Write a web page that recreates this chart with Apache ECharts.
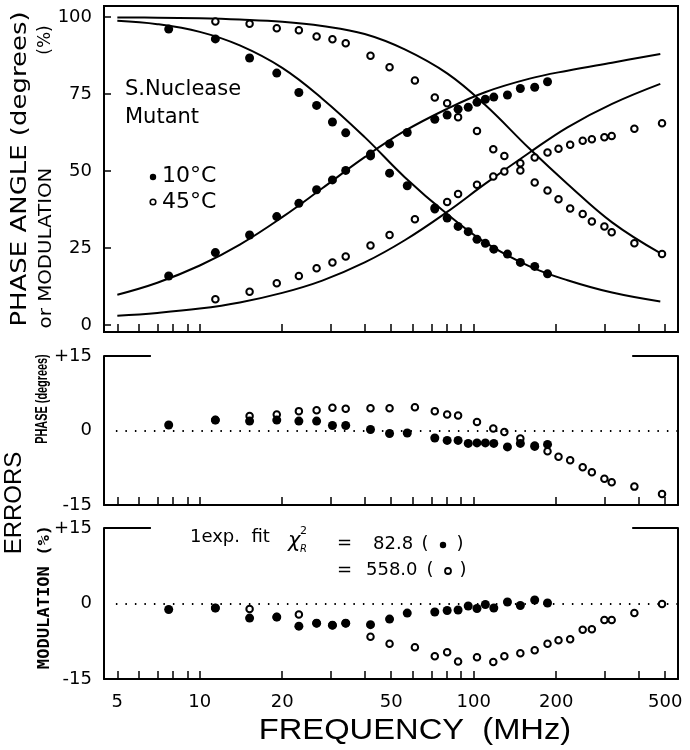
<!DOCTYPE html>
<html><head><meta charset="utf-8">
<script src="https://cdn.jsdelivr.net/npm/echarts@6/dist/echarts.min.js"></script>
<style>html,body{margin:0;padding:0;background:#fff}#c{width:690px;height:750px}</style>
</head><body><div id="c"></div>
<script>
// ---- data (frequency in MHz) ----
const freq10 = [7.7, 11.4, 15.2, 19.1, 23.0, 26.7, 30.5, 34.1, 42.0, 49.3, 57.2, 72.1, 80.0, 87.7, 95.5, 102.8, 110.3, 118.4, 132.8, 148.0, 167.0, 186.0];
const phase10 = [15.9, 23.5, 29.2, 35.2, 39.5, 43.9, 47.1, 50.2, 54.9, 58.8, 62.5, 66.8, 68.2, 70.1, 70.7, 72.3, 73.3, 74.0, 74.7, 76.8, 77.2, 79.0];
const mod10 = [96.1, 92.9, 86.7, 81.8, 75.5, 71.3, 65.9, 62.4, 55.5, 49.3, 45.2, 38.0, 34.7, 32.0, 30.3, 27.8, 26.5, 24.6, 23.0, 20.3, 19.0, 16.6];
const phaseErr10 = [1.1, 2.1, 1.9, 2.1, 1.9, 1.9, 1.0, 1.0, 0.2, -0.6, -0.5, -1.5, -2.0, -2.0, -2.6, -2.5, -2.5, -2.6, -3.3, -2.6, -3.2, -2.8];
const modErr10 = [-1.2, -0.9, -2.9, -2.7, -4.5, -3.9, -4.3, -3.9, -4.2, -3.1, -1.9, -1.7, -1.4, -1.3, -0.5, -1.0, -0.2, -0.9, 0.3, -0.4, 0.7, 0.1];

const freq45 = [11.4, 15.2, 19.1, 23.0, 26.7, 30.5, 34.1, 42.0, 49.3, 61.0, 72.1, 80.0, 87.7, 102.8, 117.9, 129.4, 148.0, 167.0, 186.0, 204.0, 225.0, 250.0, 270.0, 300.0, 319.0, 386.0, 487.0];
const phase45 = [8.3, 10.8, 13.5, 15.9, 18.4, 20.3, 22.2, 25.8, 29.2, 34.3, 37.6, 39.9, 42.5, 45.5, 48.2, 49.8, 52.5, 54.4, 56.0, 57.2, 58.5, 59.8, 60.3, 61.0, 61.4, 63.7, 65.5];
const mod45 = [98.6, 97.8, 96.4, 95.7, 93.7, 92.8, 91.5, 87.4, 83.7, 79.4, 73.9, 72.0, 67.5, 63.0, 57.1, 54.9, 50.2, 46.3, 43.7, 40.8, 37.8, 36.0, 33.6, 32.0, 30.1, 26.5, 23.0];
const phaseErr45 = [2.1, 2.9, 3.2, 3.9, 4.1, 4.6, 4.4, 4.5, 4.5, 4.7, 3.9, 3.2, 3.0, 1.7, 0.4, -0.3, -1.6, -3.0, -4.2, -5.3, -6.0, -7.4, -8.4, -9.7, -10.4, -11.3, -12.8];
const modErr45 = [-0.9, -1.1, -2.7, -2.2, -3.9, -4.3, -3.9, -6.6, -8.0, -8.7, -10.5, -9.7, -11.5, -10.7, -11.6, -10.5, -9.9, -9.3, -8.0, -7.3, -7.1, -5.2, -5.1, -3.3, -3.3, -1.9, -0.1];

// fitted curves (1 exp. fit)
const fitFreq = [5, 7, 10, 14, 20, 28, 40, 56, 80, 110, 160, 220, 320, 480];
const fitPhase10 = [9.8, 13.7, 19.3, 26.1, 35.0, 44.4, 54.5, 63.0, 70.2, 75.6, 80.0, 82.6, 85.2, 88.0];
const fitMod10 = [98.8, 97.7, 95.2, 90.8, 83.5, 73.5, 61.0, 48.0, 36.0, 26.8, 19.0, 14.5, 10.5, 7.6];
const fitPhase45 = [3.0, 3.9, 5.3, 7.3, 10.4, 14.4, 20.3, 27.5, 36.7, 45.8, 56.0, 64.2, 71.8, 78.3];
const fitMod45 = [99.9, 99.8, 99.6, 99.2, 98.5, 97.1, 94.5, 89.5, 81.7, 71.5, 57.2, 45.8, 33.3, 23.3];

// axis ticks / labels
const xTickValues = [5, 6, 7, 8, 9, 10, 20, 30, 40, 50, 60, 70, 80, 90, 100, 200, 300, 400, 500];
const xLabelValues = [5, 10, 20, 50, 100, 200, 500];
const yTopLabels = [0, 25, 50, 75, 100];
const yErrLabels = [-15, 0, 15];
const xRange = [4.47, 557];

// ---- build ----
const L = Math.log10;
const X0 = L(xRange[0]), X1 = L(xRange[1]);
const pts = (fs, vs) => fs.map((f, i) => [L(f), vs[i]]);

const filled = {symbol: 'circle', symbolSize: 9, itemStyle: {color: '#000', opacity: 1}};
const open = {symbol: 'circle', symbolSize: 6.5, itemStyle: {color: '#fff', borderColor: '#000', borderWidth: 2, opacity: 1}};

function xAxis(gi, showLabels) {
  return {
    type: 'value', gridIndex: gi, min: X0, max: X1,
    axisLine: {show: gi !== 0, onZero: false, lineStyle: {color: '#000', width: 2}},
    axisTick: {show: true, inside: true, length: 8, customValues: xTickValues.map(L), lineStyle: {color: '#000', width: 1.5}},
    axisLabel: {show: showLabels, customValues: xLabelValues.map(L), margin: 14, color: '#000', fontSize: 18, fontFamily: 'DejaVu Sans',
      formatter: v => String(Math.round(Math.pow(10, v)))},
    splitLine: {show: false}
  };
}
const errFmt = v => v > 0 ? '+' + v : String(v);

const lineS = (gi, fs, vs) => ({type: 'line', xAxisIndex: 0, yAxisIndex: 0, data: pts(fs, vs), smooth: 0.4, showSymbol: false, symbol: 'none',
  lineStyle: {color: '#000', width: 2}, silent: true, z: 2});

function decor() {
  return {
    silent: true, symbol: ['none', 'none'], label: {show: false},
    data: [
      [{coord: [X0, 15], lineStyle: {type: 'solid', width: 2, color: '#000'}}, {coord: [L(6.63), 15]}],
      [{coord: [L(379), 15], lineStyle: {type: 'solid', width: 2, color: '#000'}}, {coord: [X1, 15]}],
      [{coord: [L(4.94), 0], lineStyle: {type: [1.5, 8], width: 2, color: '#000'}}, {coord: [X1, 0]}]
    ]
  };
}

const T = (text, x, y, o = {}) => ({
  type: 'text', x, y, rotation: o.rot || 0, scaleX: o.sx || 1, scaleY: 1, silent: true, z: 100,
  style: {text, fill: '#000', fontSize: o.size || 18, fontFamily: o.family || 'DejaVu Sans',
    fontWeight: o.weight || 'normal', fontStyle: o.style || 'normal', align: o.align || 'left', verticalAlign: 'middle'}
});
const R = Math.PI / 2;

const option = {
  animation: false,
  backgroundColor: '#fff',
  textStyle: {fontFamily: 'DejaVu Sans'},
  grid: [
    {left: 104, top: 6, width: 574, height: 326, show: true, borderColor: '#000', borderWidth: 2, backgroundColor: 'transparent'},
    {left: 104, top: 356, width: 574, height: 149},
    {left: 104, top: 528, width: 574, height: 151}
  ],
  xAxis: [xAxis(0, false), xAxis(1, false), xAxis(2, true)],
  yAxis: [
    {type: 'value', gridIndex: 0, min: -2.3, max: 103.6,
      axisLine: {show: false},
      axisTick: {show: true, inside: true, length: 7, customValues: yTopLabels, lineStyle: {color: '#000', width: 1.5}},
      axisLabel: {customValues: yTopLabels, margin: 12, color: '#000', fontSize: 18, fontFamily: 'DejaVu Sans'},
      splitLine: {show: false}},
    {type: 'value', gridIndex: 1, min: -15, max: 15, axisLine: {show: true, lineStyle: {color: '#000', width: 2}},
      axisTick: {show: false}, axisLabel: {customValues: yErrLabels, formatter: errFmt, margin: 12, color: '#000', fontSize: 18, fontFamily: 'DejaVu Sans'},
      splitLine: {show: false}},
    {type: 'value', gridIndex: 2, min: -15, max: 15, axisLine: {show: true, lineStyle: {color: '#000', width: 2}},
      axisTick: {show: false}, axisLabel: {customValues: yErrLabels, formatter: errFmt, margin: 12, color: '#000', fontSize: 18, fontFamily: 'DejaVu Sans'},
      splitLine: {show: false}},
    {type: 'value', gridIndex: 1, min: -15, max: 15, position: 'right', axisLine: {show: true, lineStyle: {color: '#000', width: 2}},
      axisTick: {show: false}, axisLabel: {show: false}, splitLine: {show: false}},
    {type: 'value', gridIndex: 2, min: -15, max: 15, position: 'right', axisLine: {show: true, lineStyle: {color: '#000', width: 2}},
      axisTick: {show: false}, axisLabel: {show: false}, splitLine: {show: false}}
  ],
  series: [
    lineS(0, fitFreq, fitPhase10),
    lineS(0, fitFreq, fitMod10),
    lineS(0, fitFreq, fitPhase45),
    lineS(0, fitFreq, fitMod45),
    Object.assign({type: 'scatter', name: '45 phase', xAxisIndex: 0, yAxisIndex: 0, data: pts(freq45, phase45), z: 3}, open),
    Object.assign({type: 'scatter', name: '45 mod', xAxisIndex: 0, yAxisIndex: 0, data: pts(freq45, mod45), z: 3}, open),
    Object.assign({type: 'scatter', name: '10 phase', xAxisIndex: 0, yAxisIndex: 0, data: pts(freq10, phase10), z: 4}, filled),
    Object.assign({type: 'scatter', name: '10 mod', xAxisIndex: 0, yAxisIndex: 0, data: pts(freq10, mod10), z: 4}, filled),

    Object.assign({type: 'scatter', xAxisIndex: 1, yAxisIndex: 1, data: pts(freq45, phaseErr45), z: 3, markLine: decor()}, open),
    Object.assign({type: 'scatter', xAxisIndex: 1, yAxisIndex: 1, data: pts(freq10, phaseErr10), z: 4}, filled),

    Object.assign({type: 'scatter', xAxisIndex: 2, yAxisIndex: 2, data: pts(freq45, modErr45), z: 3, markLine: decor()}, open),
    Object.assign({type: 'scatter', xAxisIndex: 2, yAxisIndex: 2, data: pts(freq10, modErr10), z: 4}, filled)
  ],
  graphic: {elements: [
    T('PHASE ANGLE (degrees)', 20, 169, {rot: R, size: 22, sx: 1.18, align: 'center'}),
    T('or MODULATION', 46, 248, {rot: R, size: 18, sx: 1.1, align: 'center'}),
    T('(%)', 46, 40, {rot: R, size: 17, align: 'center'}),
    T('ERRORS', 14, 503, {rot: R, size: 24, family: 'Liberation Sans', align: 'center'}),
    T('PHASE (degrees)', 43, 399, {rot: R, size: 16, weight: 'bold', family: 'Liberation Sans', sx: 0.68, align: 'center'}),
    T('MODULATION (%)', 45, 597, {rot: R, size: 16, weight: 'bold', family: 'DejaVu Sans Mono', sx: 1.07, align: 'center'}),
    T('FREQUENCY  (MHz)', 415, 731, {size: 30, family: 'Liberation Sans', sx: 1.09, align: 'center'}),
    T('S.Nuclease', 125, 90, {size: 21}),
    T('Mutant', 125, 118, {size: 21}),
    {type: 'circle', shape: {cx: 153, cy: 177, r: 3.2}, style: {fill: '#000'}, silent: true, z: 100},
    {type: 'circle', shape: {cx: 153, cy: 202, r: 2.8}, style: {fill: '#fff', stroke: '#000', lineWidth: 1.6}, silent: true, z: 100},
    T('10°C', 162, 176, {size: 22}),
    T('45°C', 162, 202, {size: 22}),
    T('1exp.  fit', 190, 537, {size: 18}),
    T('χ', 288, 542, {size: 21, style: 'italic'}),
    T('2', 300, 531, {size: 11}),
    T('R', 300, 549, {size: 10, style: 'italic'}),
    T('=', 337, 543, {size: 18}),
    T('82.8', 373, 544, {size: 18}),
    T('(', 425, 544, {size: 18, align: 'center'}),
    {type: 'circle', shape: {cx: 443, cy: 545, r: 3.2}, style: {fill: '#000'}, silent: true, z: 100},
    T(')', 460, 544, {size: 18, align: 'center'}),
    T('=', 337, 570, {size: 18}),
    T('558.0', 366, 570, {size: 18}),
    T('(', 430, 570, {size: 18, align: 'center'}),
    {type: 'circle', shape: {cx: 448, cy: 571, r: 3}, style: {fill: '#fff', stroke: '#000', lineWidth: 1.8}, silent: true, z: 100},
    T(')', 463, 570, {size: 18, align: 'center'})
  ]}
};

const chart = echarts.init(document.getElementById('c'), null, {renderer: 'canvas'});
chart.setOption(option);
</script>
</body></html>
